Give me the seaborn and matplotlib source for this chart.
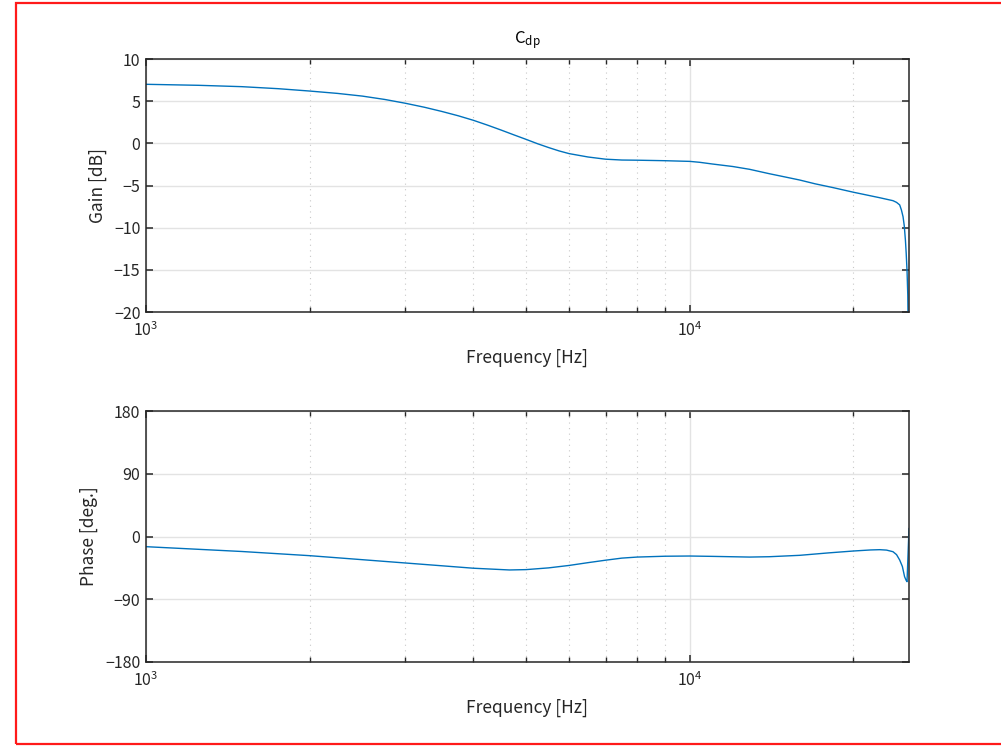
import numpy as np
import pandas as pd
import matplotlib
matplotlib.use("Agg")
import matplotlib.pyplot as plt
import matplotlib.ticker as mticker
from matplotlib.patches import Rectangle
import seaborn as sns

# ---- data ----
freq_gain = [1000, 1250, 1500, 1750, 2000, 2250, 2500, 2750, 3000, 3250, 3500, 3750,
             4000, 4250, 4500, 4750, 5000, 5250, 5500, 5750, 6000, 6500, 7000, 7500,
             8000, 9000, 10000, 10430, 11000, 12000, 12880, 14000, 15000, 15925,
             17000, 18340, 20000, 22350, 23640, 24000, 24320, 24500, 24670, 24800,
             24920, 25000, 25090, 25170, 25240, 25300]
gain_db = [7.0, 6.88, 6.72, 6.48, 6.2, 5.92, 5.6, 5.2, 4.75, 4.28, 3.78, 3.27,
           2.73, 2.15, 1.57, 1.0, 0.47, -0.05, -0.5, -0.9, -1.22, -1.62, -1.88, -1.98,
           -2.0, -2.06, -2.14, -2.25, -2.45, -2.75, -3.08, -3.6, -4.0, -4.35,
           -4.8, -5.25, -5.8, -6.45, -6.8, -7.0, -7.3, -7.9, -8.7, -9.8,
           -11.5, -13.0, -15.1, -18.0, -25.0, -40.0]

freq_phase = [1000, 1500, 2000, 2474, 3000, 3500, 4000, 4660, 5000, 5500, 6000, 6500,
              7000, 7500, 8000, 9000, 10000, 11000, 12880, 14000, 15925, 18000, 20000,
              21500, 22350, 23000, 23640, 24000, 24320, 24600, 24830, 25000, 25090, 25300]
phase_deg = [-14.6, -21.5, -27.5, -33.0, -38.0, -42.0, -45.5, -48.0, -47.5, -45.0, -41.5, -37.5,
             -34.0, -31.0, -29.5, -28.3, -28.0, -28.5, -29.5, -29.0, -27.0, -23.5, -20.8,
             -19.3, -18.9, -19.5, -21.8, -26.0, -33.7, -43.0, -57.6, -63.0, -64.8, 11.7]

title_text = r"C$_{\mathrm{dp}}$"
x_label = "Frequency [Hz]"
gain_label = "Gain [dB]"
phase_label = "Phase [deg.]"
gain_ticks = [10, 5, 0, -5, -10, -15, -20]
phase_ticks = [180, 90, 0, -90, -180]

sns.set_theme(style="white")
plt.rcParams["font.family"] = ["Noto Sans CJK JP", "DejaVu Sans"]
plt.rcParams["mathtext.fontset"] = "custom"
plt.rcParams["mathtext.rm"] = "Noto Sans CJK JP"
plt.rcParams["mathtext.it"] = "Noto Sans CJK JP"
plt.rcParams["axes.unicode_minus"] = True

W, H = 1001, 746
fig = plt.figure(figsize=(W / 100, H / 100), dpi=100)
fig.patch.set_facecolor("white")

def px_axes(l, t, r, b):
    return [l / W, 1 - b / H, (r - l) / W, (b - t) / H]

ax1 = fig.add_axes(px_axes(146, 59, 909, 312))
ax2 = fig.add_axes(px_axes(146, 411, 909, 662))

line_color = "#0072BD"
spine_color = "#262626"
xmin, xmax = 1000, 25300

df_g = pd.DataFrame({"f": freq_gain, "g": gain_db})
df_p = pd.DataFrame({"f": freq_phase, "p": phase_deg})
sns.lineplot(data=df_g, x="f", y="g", ax=ax1, color=line_color, lw=1.0, sort=False, estimator=None)
sns.lineplot(data=df_p, x="f", y="p", ax=ax2, color=line_color, lw=1.0, sort=False, estimator=None)

for ax, ylab, yt, ylim in [(ax1, gain_label, gain_ticks, (-20, 10)),
                           (ax2, phase_label, phase_ticks, (-180, 180))]:
    ax.set_xscale("log")
    ax.set_xlim(xmin, xmax)
    ax.set_ylim(*ylim)
    ax.set_yticks(yt)
    ax.xaxis.set_major_locator(mticker.FixedLocator([1e3, 1e4]))
    ax.xaxis.set_major_formatter(mticker.FuncFormatter(
        lambda v, p: r"$10^{%d}$" % int(round(np.log10(v)))))
    ax.xaxis.set_minor_locator(mticker.LogLocator(base=10, subs=np.arange(2, 10), numticks=20))
    ax.xaxis.set_minor_formatter(mticker.NullFormatter())
    ax.set_axisbelow(True)
    ax.grid(True, which="major", axis="both", color="#e3e3e3", lw=1.0, ls="-")
    ax.grid(True, which="minor", axis="x", color="#c8c8c8", lw=0.8, ls=(0, (1, 4)))
    for s in ax.spines.values():
        s.set_visible(True)
        s.set_color(spine_color)
        s.set_linewidth(1.1)
    ax.tick_params(which="major", direction="in", length=5, width=1.1, color=spine_color,
                   top=True, right=True, bottom=True, left=True,
                   labelsize=11.5, labelcolor="#262626", pad=4)
    ax.tick_params(axis="x", which="major", pad=7)
    ax.tick_params(which="minor", direction="in", length=3.5, width=1.0, color=spine_color,
                   top=True, bottom=True)
    ax.set_xlabel(x_label, fontsize=12.5, color="#262626", labelpad=6)
    ax.set_ylabel(ylab, fontsize=12.5, color="#262626", labelpad=5)

ax1.set_title(title_text, fontsize=12, color="#000000", pad=11)

# red frame around figure
fig.patches.append(Rectangle((16 / W, 1 - 744 / H), (1010 - 16) / W, (744 - 3) / H,
                             transform=fig.transFigure, fill=False,
                             edgecolor="#ff1a1a", lw=1.6, clip_on=False))

fig.savefig("out.png", dpi=100, facecolor="white")
